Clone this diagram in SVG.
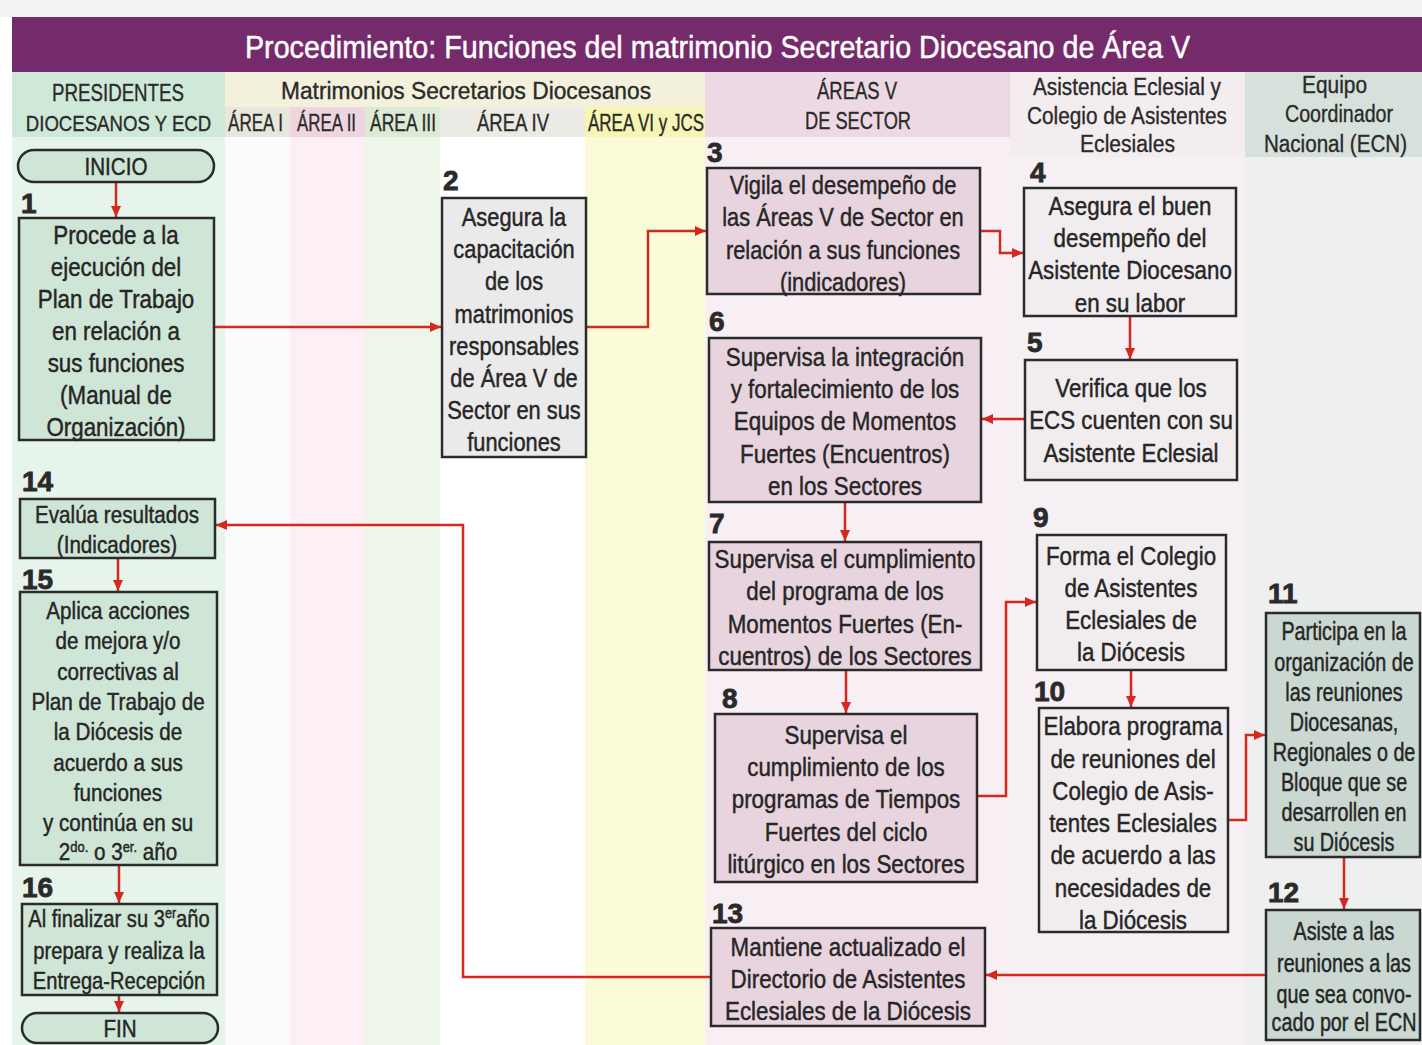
<svg xmlns="http://www.w3.org/2000/svg" width="1422" height="1045" viewBox="0 0 1422 1045">
<style>
.t{font-family:"Liberation Sans",Arial,sans-serif;fill:#262626;stroke:#262626;stroke-width:0.45;text-anchor:middle;font-size:26px}
.s25{font-size:25px}
.s24{font-size:24px}
.h{font-family:"Liberation Sans",Arial,sans-serif;fill:#2a2a2a;stroke:#2a2a2a;stroke-width:0.35;font-size:23px}
.num{font-family:"Liberation Sans",Arial,sans-serif;font-weight:bold;font-size:28px;fill:#2a2a2a;stroke:#2a2a2a;stroke-width:0.8}
.box{stroke:#2b2b2b;stroke-width:2.5}
.g{fill:#cfe5d6}
.gy{fill:#ebeaea}
.pk{fill:#e8d4de}
.wh{fill:#f1ecee}
.gg{fill:#cad8d1}
.c{fill:none;stroke:#d3291f;stroke-width:2.5}
</style>
<defs>
<marker id="ah" markerUnits="userSpaceOnUse" markerWidth="12" markerHeight="12" refX="11" refY="6" orient="auto">
<path d="M0,1 L11,6 L0,11 z" fill="#d3291f"/>
</marker>
</defs>
<rect x="0" y="0" width="1422" height="1045" fill="#ffffff"/>
<rect x="0" y="0" width="1422" height="17" fill="#f3f3f3"/>
<g id="columns">
<rect x="12" y="72" width="213" height="973" fill="#e6f4ec"/>
<rect x="12" y="72" width="213" height="65" fill="#cfe9d9"/>
<rect x="225" y="72" width="65" height="973" fill="#fbfbfb"/>
<rect x="290" y="72" width="75" height="973" fill="#fcf0f5"/>
<rect x="365" y="72" width="75" height="973" fill="#eef6ea"/>
<rect x="440" y="72" width="145" height="973" fill="#ffffff"/>
<rect x="585" y="72" width="120" height="973" fill="#fbfbd9"/>
<rect x="225" y="72" width="480" height="35" fill="#f3f1dc"/>
<rect x="225" y="107" width="65" height="30" fill="#e8e7de"/>
<rect x="290" y="107" width="75" height="30" fill="#efd5e0"/>
<rect x="365" y="107" width="75" height="30" fill="#dcebd6"/>
<rect x="440" y="107" width="145" height="30" fill="#eceae4"/>
<rect x="585" y="107" width="120" height="30" fill="#f6f5b5"/>
<rect x="705" y="72" width="305" height="973" fill="#f8eff4"/>
<rect x="705" y="72" width="305" height="65" fill="#ecd9e3"/>
<rect x="1010" y="72" width="235" height="973" fill="#f6f0f4"/>
<rect x="1010" y="72" width="235" height="85" fill="#f4edf0"/>
<rect x="1245" y="72" width="177" height="973" fill="#eef0ef"/>
<rect x="1245" y="72" width="177" height="85" fill="#d6e1db"/>
</g>
<g id="title">
<rect x="12" y="17" width="1410" height="55" fill="#742a6b"/>
<text x="245" y="58" font-family="Liberation Sans, Arial, sans-serif" font-size="32" fill="#ffffff" stroke="#ffffff" stroke-width="0.5" textLength="945" lengthAdjust="spacingAndGlyphs">Procedimiento: Funciones del matrimonio Secretario Diocesano de Área V</text>
</g>
<g id="headers">
<text class="h" x="52" y="101" textLength="132" lengthAdjust="spacingAndGlyphs">PRESIDENTES</text>
<g transform="translate(118.5 0) scale(0.81 1)"><text class="h" x="0" y="131" text-anchor="middle">DIOCESANOS Y ECD</text></g>
<text class="h" x="281" y="99" textLength="370" lengthAdjust="spacingAndGlyphs">Matrimonios Secretarios Diocesanos</text>
<text class="h" x="228" y="131" textLength="55" lengthAdjust="spacingAndGlyphs">ÁREA I</text>
<text class="h" x="297" y="131" textLength="59" lengthAdjust="spacingAndGlyphs">ÁREA II</text>
<text class="h" x="370" y="131" textLength="66" lengthAdjust="spacingAndGlyphs">ÁREA III</text>
<text class="h" x="477" y="131" textLength="72" lengthAdjust="spacingAndGlyphs">ÁREA IV</text>
<text class="h" x="588" y="131" textLength="116" lengthAdjust="spacingAndGlyphs">ÁREA VI y JCS</text>
<text class="h" x="817" y="99" textLength="80" lengthAdjust="spacingAndGlyphs">ÁREAS V</text>
<text class="h" x="805" y="129" textLength="106" lengthAdjust="spacingAndGlyphs">DE SECTOR</text>
<text class="h" x="1033" y="95" textLength="188" lengthAdjust="spacingAndGlyphs">Asistencia Eclesial y</text>
<text class="h" x="1027" y="124" textLength="200" lengthAdjust="spacingAndGlyphs">Colegio de Asistentes</text>
<text class="h" x="1080" y="152" textLength="95" lengthAdjust="spacingAndGlyphs">Eclesiales</text>
<text class="h" x="1302" y="93" textLength="65" lengthAdjust="spacingAndGlyphs">Equipo</text>
<text class="h" x="1285" y="122" textLength="108" lengthAdjust="spacingAndGlyphs">Coordinador</text>
<text class="h" x="1264" y="152" textLength="143" lengthAdjust="spacingAndGlyphs">Nacional (ECN)</text>
</g>
<g id="connectors">
<path class="c" d="M116 182 V217" marker-end="url(#ah)"/>
<path class="c" d="M214 327 H441" marker-end="url(#ah)"/>
<path class="c" d="M586 327 H648 V231 H706" marker-end="url(#ah)"/>
<path class="c" d="M980 231 H1000 V253 H1023" marker-end="url(#ah)"/>
<path class="c" d="M1130 316 V359" marker-end="url(#ah)"/>
<path class="c" d="M1025 419 H982" marker-end="url(#ah)"/>
<path class="c" d="M845 502 V541" marker-end="url(#ah)"/>
<path class="c" d="M846 670 V713" marker-end="url(#ah)"/>
<path class="c" d="M977 796 H1006 V602 H1036" marker-end="url(#ah)"/>
<path class="c" d="M1131 670 V707" marker-end="url(#ah)"/>
<path class="c" d="M1228 820 H1246 V735 H1265" marker-end="url(#ah)"/>
<path class="c" d="M1344 857 V909" marker-end="url(#ah)"/>
<path class="c" d="M1266 975 H986" marker-end="url(#ah)"/>
<path class="c" d="M711 977 H463 V525 H216" marker-end="url(#ah)"/>
<path class="c" d="M118 558 V591" marker-end="url(#ah)"/>
<path class="c" d="M119 865 V903" marker-end="url(#ah)"/>
<path class="c" d="M119 995 V1012" marker-end="url(#ah)"/>
</g>
<g id="inicio">
<rect class="box g" x="18" y="150" width="196" height="32" rx="16"/>
<g class="t" transform="translate(116 0) scale(0.86 1)"><text class="s24" x="0" y="175">INICIO</text></g>
</g>
<g id="n1">
<text class="num" x="21" y="213">1</text>
<rect class="box g" x="19" y="218" width="195" height="222"/>
<g class="t" transform="translate(116 0) scale(0.86 1)">
<text x="0" y="244">Procede a la</text>
<text x="0" y="276">ejecución del</text>
<text x="0" y="308">Plan de Trabajo</text>
<text x="0" y="340">en relación a</text>
<text x="0" y="372">sus funciones</text>
<text x="0" y="404">(Manual de</text>
<text x="0" y="436">Organización)</text>
</g>
</g>
<g id="n2">
<text class="num" x="443" y="190">2</text>
<rect class="box gy" x="442" y="198" width="144" height="259"/>
<g class="t" transform="translate(514 0) scale(0.84 1)">
<text x="0" y="226">Asegura la</text>
<text x="0" y="258">capacitación</text>
<text x="0" y="290">de los</text>
<text x="0" y="323">matrimonios</text>
<text x="0" y="355">responsables</text>
<text x="0" y="387">de Área V de</text>
<text x="0" y="419">Sector en sus</text>
<text x="0" y="451">funciones</text>
</g>
</g>
<g id="n3">
<text class="num" x="707" y="162">3</text>
<rect class="box pk" x="707" y="168" width="273" height="126"/>
<g class="t" transform="translate(843 0) scale(0.84 1)">
<text x="0" y="194">Vigila el desempeño de</text>
<text x="0" y="226">las Áreas V de Sector en</text>
<text x="0" y="259">relación a sus funciones</text>
<text x="0" y="291">(indicadores)</text>
</g>
</g>
<g id="n4">
<text class="num" x="1030" y="182">4</text>
<rect class="box wh" x="1024" y="188" width="212" height="128"/>
<g class="t" transform="translate(1130 0) scale(0.86 1)">
<text x="0" y="215">Asegura el buen</text>
<text x="0" y="247">desempeño del</text>
<text x="0" y="279">Asistente Diocesano</text>
<text x="0" y="312">en su labor</text>
</g>
</g>
<g id="n5">
<text class="num" x="1027" y="352">5</text>
<rect class="box wh" x="1025" y="360" width="212" height="120"/>
<g class="t" transform="translate(1131 0) scale(0.86 1)">
<text x="0" y="397">Verifica que los</text>
<text x="0" y="429">ECS cuenten con su</text>
<text x="0" y="462">Asistente Eclesial</text>
</g>
</g>
<g id="n6">
<text class="num" x="709" y="331">6</text>
<rect class="box pk" x="709" y="338" width="272" height="164"/>
<g class="t" transform="translate(845 0) scale(0.86 1)">
<text x="0" y="366">Supervisa la integración</text>
<text x="0" y="398">y fortalecimiento de los</text>
<text x="0" y="430">Equipos de Momentos</text>
<text x="0" y="463">Fuertes (Encuentros)</text>
<text x="0" y="495">en los Sectores</text>
</g>
</g>
<g id="n7">
<text class="num" x="709" y="533">7</text>
<rect class="box pk" x="709" y="542" width="272" height="128"/>
<g class="t" transform="translate(845 0) scale(0.86 1)">
<text x="0" y="568">Supervisa el cumplimiento</text>
<text x="0" y="600">del programa de los</text>
<text x="0" y="633">Momentos Fuertes (En-</text>
<text x="0" y="665">cuentros) de los Sectores</text>
</g>
</g>
<g id="n8">
<text class="num" x="722" y="708">8</text>
<rect class="box pk" x="715" y="714" width="262" height="168"/>
<g class="t" transform="translate(846 0) scale(0.86 1)">
<text x="0" y="744">Supervisa el</text>
<text x="0" y="776">cumplimiento de los</text>
<text x="0" y="808">programas de Tiempos</text>
<text x="0" y="841">Fuertes del ciclo</text>
<text x="0" y="873">litúrgico en los Sectores</text>
</g>
</g>
<g id="n9">
<text class="num" x="1033" y="527">9</text>
<rect class="box wh" x="1037" y="535" width="189" height="135"/>
<g class="t" transform="translate(1131 0) scale(0.86 1)">
<text x="0" y="565">Forma el Colegio</text>
<text x="0" y="597">de Asistentes</text>
<text x="0" y="629">Eclesiales de</text>
<text x="0" y="661">la Diócesis</text>
</g>
</g>
<g id="n10">
<text class="num" x="1034" y="701">10</text>
<rect class="box wh" x="1039" y="708" width="189" height="224"/>
<g class="t" transform="translate(1133 0) scale(0.86 1)">
<text x="0" y="735">Elabora programa</text>
<text x="0" y="768">de reuniones del</text>
<text x="0" y="800">Colegio de Asis-</text>
<text x="0" y="832">tentes Eclesiales</text>
<text x="0" y="864">de acuerdo a las</text>
<text x="0" y="897">necesidades de</text>
<text x="0" y="929">la Diócesis</text>
</g>
</g>
<g id="n11">
<text class="num" x="1268" y="603">11</text>
<rect class="box gg" x="1266" y="613" width="154" height="244"/>
<g class="t" transform="translate(1344 0) scale(0.79 1)">
<text class="s25" x="0" y="640">Participa en la</text>
<text class="s25" x="0" y="671">organización de</text>
<text class="s25" x="0" y="701">las reuniones</text>
<text class="s25" x="0" y="731">Diocesanas,</text>
<text class="s25" x="0" y="761">Regionales o de</text>
<text class="s25" x="0" y="791">Bloque que se</text>
<text class="s25" x="0" y="821">desarrollen en</text>
<text class="s25" x="0" y="851">su Diócesis</text>
</g>
</g>
<g id="n12">
<text class="num" x="1268" y="902">12</text>
<rect class="box gg" x="1266" y="910" width="154" height="130"/>
<g class="t" transform="translate(1344 0) scale(0.79 1)">
<text class="s25" x="0" y="940">Asiste a las</text>
<text class="s25" x="0" y="972">reuniones a las</text>
<text class="s25" x="0" y="1003">que sea convo-</text>
<text class="s25" x="0" y="1031">cado por el ECN</text>
</g>
</g>
<g id="n13">
<text class="num" x="712" y="923">13</text>
<rect class="box pk" x="711" y="928" width="274" height="98"/>
<g class="t" transform="translate(848 0) scale(0.86 1)">
<text x="0" y="956">Mantiene actualizado el</text>
<text x="0" y="988">Directorio de Asistentes</text>
<text x="0" y="1020">Eclesiales de la Diócesis</text>
</g>
</g>
<g id="n14">
<text class="num" x="22" y="491">14</text>
<rect class="box g" x="20" y="499" width="195" height="59"/>
<g class="t" transform="translate(117 0) scale(0.86 1)">
<text class="s24" x="0" y="523">Evalúa resultados</text>
<text class="s24" x="0" y="553">(Indicadores)</text>
</g>
</g>
<g id="n15">
<text class="num" x="22" y="589">15</text>
<rect class="box g" x="20" y="592" width="197" height="273"/>
<g class="t" transform="translate(118 0) scale(0.86 1)">
<text class="s24" x="0" y="619">Aplica acciones</text>
<text class="s24" x="0" y="649">de mejora y/o</text>
<text class="s24" x="0" y="680">correctivas al</text>
<text class="s24" x="0" y="710">Plan de Trabajo de</text>
<text class="s24" x="0" y="740">la Diócesis de</text>
<text class="s24" x="0" y="771">acuerdo a sus</text>
<text class="s24" x="0" y="801">funciones</text>
<text class="s24" x="0" y="831">y continúa en su</text>
<text class="s24" x="0" y="860">2<tspan font-size="15" dy="-8">do.</tspan><tspan dy="8"> o 3</tspan><tspan font-size="15" dy="-8">er.</tspan><tspan dy="8"> año</tspan></text>
</g>
</g>
<g id="n16">
<text class="num" x="22" y="897">16</text>
<rect class="box g" x="22" y="904" width="195" height="91"/>
<g class="t" transform="translate(119 0) scale(0.84 1)">
<text class="s24" x="0" y="927">Al finalizar su 3<tspan font-size="15" dy="-9">er</tspan><tspan dy="9">año</tspan></text>
<text class="s24" x="0" y="959">prepara y realiza la</text>
<text class="s24" x="0" y="989">Entrega-Recepción</text>
</g>
</g>
<g id="fin">
<rect class="box g" x="22" y="1013" width="196" height="30" rx="15"/>
<g class="t" transform="translate(120 0) scale(0.86 1)"><text class="s24" x="0" y="1037">FIN</text></g>
</g>
</svg>
